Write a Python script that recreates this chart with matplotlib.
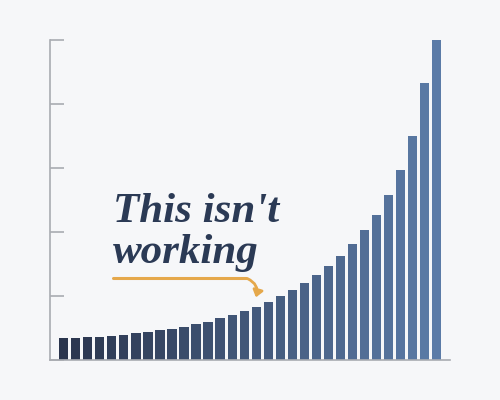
import numpy as np
import matplotlib
matplotlib.use('Agg')
import matplotlib.pyplot as plt
from matplotlib.colors import LinearSegmentedColormap
from matplotlib.patches import FancyArrowPatch

# bar heights (top bar = 100)
values = [6.8, 7.0, 7.1, 7.3, 7.6, 7.9, 8.3, 8.6, 9.3, 9.7,
          10.4, 11.25, 12.0, 13.0, 14.2, 15.4, 16.7, 18.2, 20.0, 21.9,
          24.0, 26.6, 29.4, 32.5, 36.1, 40.5, 45.2, 51.5, 59.3, 70.0,
          86.7, 100.0]
yticks = [0, 20, 40, 60, 80, 100]
label_lines = ["This isn't", "working"]

BG = '#f6f7f9'
NAVY = '#2b3a55'
ORANGE = '#e5a84b'
AXIS = '#a9acb2'

cmap = LinearSegmentedColormap.from_list('bars', ['#2a354d', '#5b7ba7'])

fig = plt.figure(figsize=(5, 4), dpi=100, facecolor=BG)
ax = fig.add_axes([0.1, 0.1, 0.8, 0.8], facecolor=BG)

x = np.arange(len(values))
colours = [cmap(i / (len(values) - 1)) for i in x]
ax.bar(x, values, width=0.77, color=colours, zorder=2)

ax.set_xlim(-1.14, 32.11)
ax.set_ylim(0, 100)
ax.set_yticks(yticks)
ax.set_yticklabels([])
ax.set_xticks([])
ax.tick_params(axis='y', direction='in', length=10, width=1.2, color=AXIS)
for side in ['top', 'right']:
    ax.spines[side].set_visible(False)
for side in ['left', 'bottom']:
    ax.spines[side].set_color(AXIS)
    ax.spines[side].set_linewidth(1.2)

# annotation text, in figure pixel coords
tr = fig.transFigure
fig.text(113 / 500, 1 - 222 / 400, label_lines[0], transform=tr,
         fontsize=31, color=NAVY, family='Liberation Serif',
         style='italic', weight='bold', va='baseline', ha='left')
fig.text(113 / 500, 1 - 263 / 400, label_lines[1], transform=tr,
         fontsize=31, color=NAVY, family='Liberation Serif',
         style='italic', weight='bold', va='baseline', ha='left')

# underline and curved arrow
fig.add_artist(plt.Line2D([113 / 500, 246 / 500], [1 - 277.5 / 400, 1 - 277.5 / 400],
                          transform=tr, color=ORANGE, lw=2.2, solid_capstyle='round'))
arrow = FancyArrowPatch((245 / 500, 1 - 277.5 / 400), (255 / 500, 1 - 300 / 400),
                        transform=tr, connectionstyle='arc3,rad=-0.5',
                        arrowstyle='-|>,head_length=4,head_width=3',
                        color=ORANGE, lw=2.0)
fig.add_artist(arrow)

fig.savefig('out.png', dpi=100, facecolor=BG)
